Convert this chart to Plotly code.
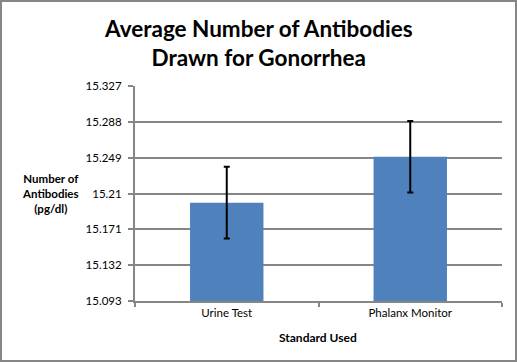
import plotly.graph_objects as go

categories = ["Urine Test", "Phalanx Monitor"]
values = [15.2, 15.25]
errors = [0.039, 0.039]
tick_vals = [15.093, 15.132, 15.171, 15.21, 15.249, 15.288, 15.327]
tick_text = ["15.093", "15.132", "15.171", "15.21", "15.249", "15.288", "15.327"]

W, H = 517, 362
L, R, T, B = 135, 15, 86, 61
pw, ph = W - L - R, H - T - B

FONT = "Lato, Calibri, sans-serif"
GRAY = "#868686"

fig = go.Figure(go.Bar(
    x=categories, y=values, width=0.4,
    marker=dict(color="#4F81BD", line=dict(width=0)),
    error_y=dict(type="data", array=errors, visible=True, color="black", thickness=2, width=3),
))

fig.update_layout(
    width=W, height=H,
    margin=dict(l=L, r=R, t=T, b=B, autoexpand=False),
    paper_bgcolor="white", plot_bgcolor="white",
    showlegend=False,
    font=dict(family=FONT, size=11.5, color="black"),
)
fig.update_yaxes(
    range=[15.093, 15.327], tickvals=tick_vals, ticktext=tick_text,
    showgrid=True, gridcolor=GRAY, gridwidth=2,
    showline=True, linecolor=GRAY, linewidth=2,
    ticks="outside", ticklen=5, tickcolor=GRAY, tickwidth=2,
    zeroline=False, tickfont=dict(size=11.5, family=FONT), ticklabelstandoff=4,
)
fig.update_xaxes(
    showline=True, linecolor=GRAY, linewidth=2,
    ticks="outside", tickson="boundaries", ticklen=4, tickcolor=GRAY, tickwidth=2,
    showgrid=False, tickfont=dict(size=11.5, family=FONT),
)
# Title
fig.add_annotation(text="<b>Average Number of Antibodies<br>Drawn for Gonorrhea</b>",
                   xref="paper", yref="paper", x=(258 - L) / pw, y=1 + (T - 43) / ph,
                   xanchor="center", yanchor="middle", showarrow=False, align="center",
                   font=dict(size=22.5, family=FONT))
fig.add_annotation(text="<b>Number of<br>Antibodies<br>(pg/dl)</b>", xref="paper", yref="paper",
                   x=-(L - 50) / pw, y=(H - B - 193) / ph, xanchor="center", yanchor="middle",
                   showarrow=False, align="center", font=dict(size=11.5, family=FONT))
fig.add_annotation(text="<b>Standard Used</b>", xref="paper", yref="paper",
                   x=(318 - L) / pw, y=-(337 - (H - B)) / ph, xanchor="center", yanchor="middle",
                   showarrow=False, font=dict(size=12, family=FONT))
fig.add_shape(type="rect", xref="paper", yref="paper",
              x0=-(L - 1) / pw, x1=1 + (R - 1) / pw, y0=-(B - 1) / ph, y1=1 + (T - 1) / ph,
              line=dict(color=GRAY, width=2), layer="above")

fig.write_html("out.html", config={"displayModeBar": False},
               post_script="document.body.style.margin='0';")
